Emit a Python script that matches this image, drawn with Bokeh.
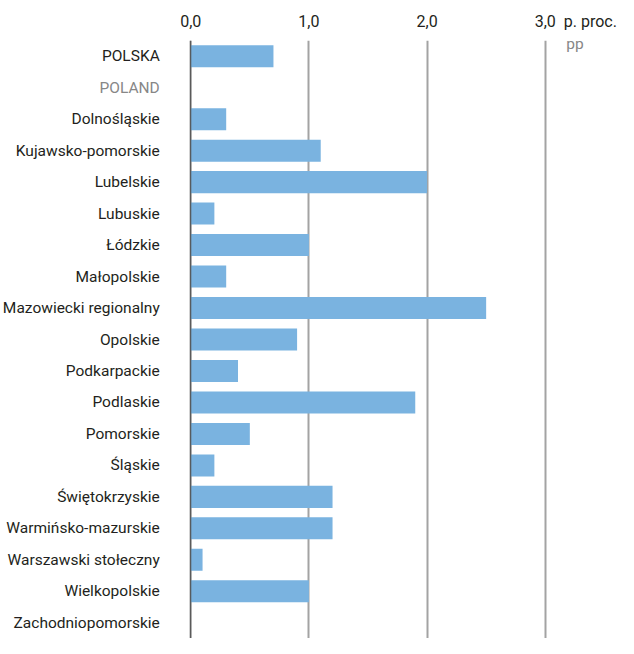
from bokeh.plotting import figure
from bokeh.models import FactorRange, Range1d, FixedTicker, Span, ColumnDataSource, Label
from bokeh.core.properties import value, field
from bokeh.embed import file_html
from bokeh.resources import INLINE

# ---- data ----
regions = ["Dolnośląskie", "Kujawsko-pomorskie", "Lubelskie", "Lubuskie", "Łódzkie",
           "Małopolskie", "Mazowiecki regionalny", "Opolskie", "Podkarpackie", "Podlaskie",
           "Pomorskie", "Śląskie", "Świętokrzyskie", "Warmińsko-mazurskie",
           "Warszawski stołeczny", "Wielkopolskie", "Zachodniopomorskie"]
region_values = [0.3, 1.1, 2.0, 0.2, 1.0, 0.3, 2.5, 0.9, 0.4, 1.9, 0.5, 0.2, 1.2, 1.2, 0.1, 1.0, 0.0]
poland_label = "POLSKA"
poland_label_en = "POLAND"
poland_value = 0.7
x_ticks = [0, 1, 2, 3]
x_tick_labels = ["0,0", "1,0", "2,0", "3,0"]
unit_pl = "p. proc."
unit_en = "pp"

FONT = "Roboto"
BLACK = "#231f20"
GRAY = "#878787"
BAR = "#7ab3e0"

all_labels = [poland_label, poland_label_en] + regions
label_colors = [BLACK, GRAY] + [BLACK] * len(regions)

bar_src = ColumnDataSource(dict(cat=[poland_label] + regions, val=[poland_value] + region_values))
lab_src = ColumnDataSource(dict(cat=all_labels, color=label_colors))

p = figure(width=618, height=638,
           y_range=FactorRange(factors=list(reversed(all_labels)), range_padding=0),
           x_range=Range1d(-1.61, 3.62),
           x_axis_location="above",
           output_backend="svg", toolbar_location=None,
           min_border_left=0, min_border_right=0, min_border_top=40, min_border_bottom=0)
p.outline_line_color = None
p.background_fill_color = "white"
p.border_fill_color = "white"

p.hbar(y="cat", left=0, right="val", height=0.70, fill_color=BAR, line_color=None, source=bar_src)

p.text(x=0, y="cat", text="cat", source=lab_src, x_offset=-31,
       text_align="right", text_baseline="middle",
       text_color=field("color"), text_font=value(FONT), text_font_size="15.5px")

p.yaxis.visible = False
p.ygrid.grid_line_color = None

# unit caption sits in the axis row, to the right of the last tick
unit_pos = x_ticks[-1] + 0.382
xa = p.xaxis[0]
xa.ticker = FixedTicker(ticks=x_ticks + [unit_pos])
overrides = {t: s for t, s in zip(x_ticks, x_tick_labels)}
overrides[unit_pos] = unit_pl
xa.major_label_overrides = overrides
xa.axis_line_color = None
xa.major_tick_line_color = None
xa.minor_tick_line_color = None
xa.major_label_text_font = FONT
xa.major_label_text_font_size = "16px"
xa.major_label_text_color = BLACK
xa.major_label_standoff = 4

p.xgrid.ticker = FixedTicker(ticks=x_ticks)
p.xgrid.grid_line_color = "#a3a3a3"
p.xgrid.grid_line_width = 2

p.add_layout(Span(location=0, dimension="height", line_color="#444444", line_width=1))

top_row = len(all_labels) - 0.5  # synthetic coordinate of the first (top) category
p.add_layout(Label(x=x_ticks[-1], y=top_row, text=unit_en, x_offset=21, y_offset=12,
                   text_align="left", text_baseline="middle", text_color=GRAY,
                   text_font=FONT, text_font_size="15.5px"))

open("out.html", "w").write(file_html(p, INLINE))
